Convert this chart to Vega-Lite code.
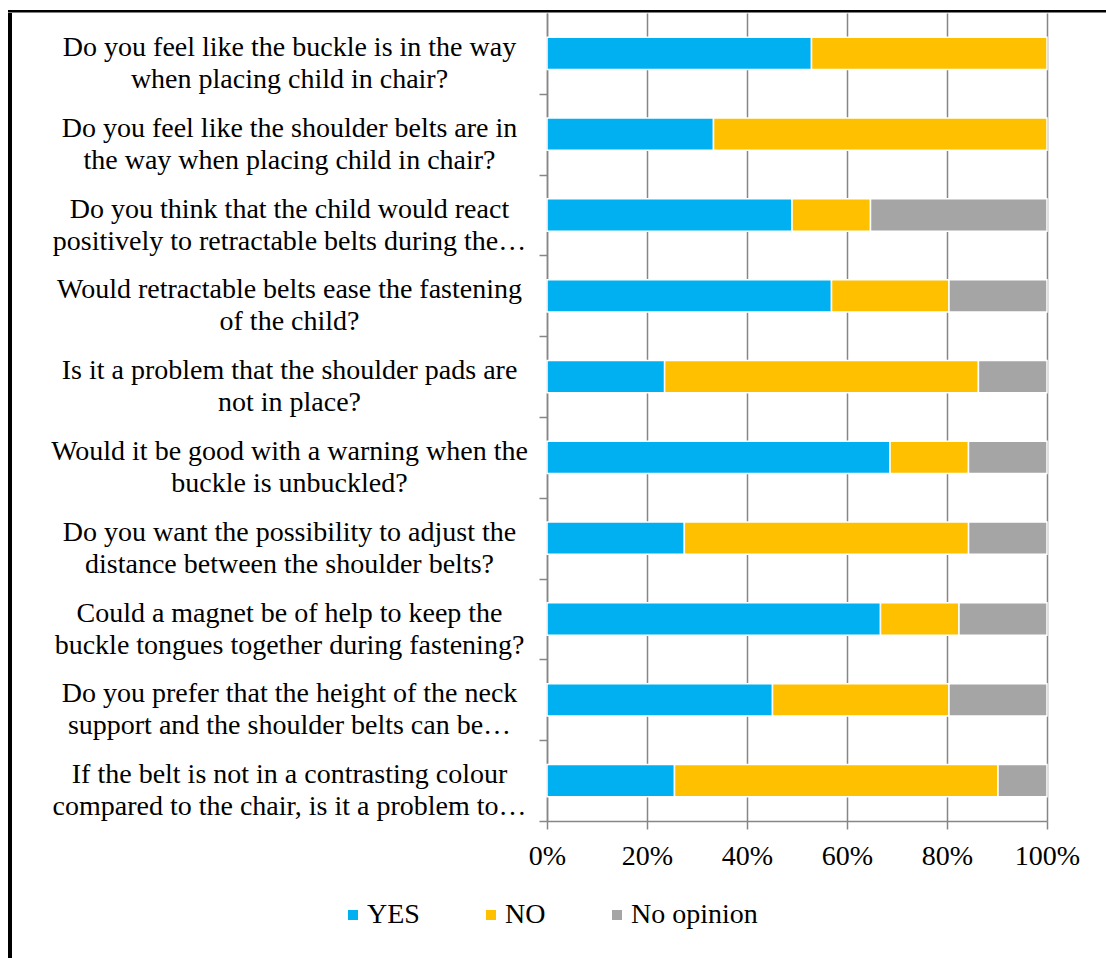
{
  "$schema": "https://vega.github.io/schema/vega-lite/v6.json",
  "padding": {"left": 8, "top": 10, "right": 0, "bottom": 0},
  "background": "white",
  "config": {"font": "Liberation Serif", "view": {"stroke": null}},
  "spacing": 0,
  "resolve": {"legend": {"color": "independent"}, "scale": {"color": "independent"}},
  "vconcat": [
    {
      "width": 1098, "height": 2.5,
      "data": {"values": []},
      "view": {"fill": "black", "stroke": null},
      "mark": "rect",
      "encoding": {}
    },
    {
      "spacing": 38,
      "resolve": {"legend": {"color": "independent"}, "scale": {"color": "independent"}},
      "hconcat": [
        {
          "width": 4, "height": 946,
          "data": {"values": []},
          "view": {"fill": "black", "stroke": null},
          "mark": "rect",
          "encoding": {}
        },
        {
          "width": 500,
          "height": 808,
          "data": {"values": [
            {"question": "Do you feel like the buckle is in the way|when placing child in chair?", "answer": "YES", "k": 1, "pct": 52.9},
            {"question": "Do you feel like the buckle is in the way|when placing child in chair?", "answer": "NO", "k": 2, "pct": 47.1},
            {"question": "Do you feel like the shoulder belts are in|the way when placing child in chair?", "answer": "YES", "k": 1, "pct": 33.3},
            {"question": "Do you feel like the shoulder belts are in|the way when placing child in chair?", "answer": "NO", "k": 2, "pct": 66.7},
            {"question": "Do you think that the child would react|positively to retractable belts during the…", "answer": "YES", "k": 1, "pct": 49.0},
            {"question": "Do you think that the child would react|positively to retractable belts during the…", "answer": "NO", "k": 2, "pct": 15.7},
            {"question": "Do you think that the child would react|positively to retractable belts during the…", "answer": "No opinion", "k": 3, "pct": 35.3},
            {"question": "Would retractable belts ease the fastening|of the child?", "answer": "YES", "k": 1, "pct": 56.9},
            {"question": "Would retractable belts ease the fastening|of the child?", "answer": "NO", "k": 2, "pct": 23.5},
            {"question": "Would retractable belts ease the fastening|of the child?", "answer": "No opinion", "k": 3, "pct": 19.6},
            {"question": "Is it a problem that the shoulder pads are|not in place?", "answer": "YES", "k": 1, "pct": 23.5},
            {"question": "Is it a problem that the shoulder pads are|not in place?", "answer": "NO", "k": 2, "pct": 62.7},
            {"question": "Is it a problem that the shoulder pads are|not in place?", "answer": "No opinion", "k": 3, "pct": 13.7},
            {"question": "Would it be good with a warning when the|buckle is unbuckled?", "answer": "YES", "k": 1, "pct": 68.6},
            {"question": "Would it be good with a warning when the|buckle is unbuckled?", "answer": "NO", "k": 2, "pct": 15.7},
            {"question": "Would it be good with a warning when the|buckle is unbuckled?", "answer": "No opinion", "k": 3, "pct": 15.7},
            {"question": "Do you want the possibility to adjust the|distance between the shoulder belts?", "answer": "YES", "k": 1, "pct": 27.5},
            {"question": "Do you want the possibility to adjust the|distance between the shoulder belts?", "answer": "NO", "k": 2, "pct": 56.9},
            {"question": "Do you want the possibility to adjust the|distance between the shoulder belts?", "answer": "No opinion", "k": 3, "pct": 15.7},
            {"question": "Could a magnet be of help to keep the|buckle tongues together during fastening?", "answer": "YES", "k": 1, "pct": 66.7},
            {"question": "Could a magnet be of help to keep the|buckle tongues together during fastening?", "answer": "NO", "k": 2, "pct": 15.7},
            {"question": "Could a magnet be of help to keep the|buckle tongues together during fastening?", "answer": "No opinion", "k": 3, "pct": 17.6},
            {"question": "Do you prefer that the height of the neck|support and the shoulder belts can be…", "answer": "YES", "k": 1, "pct": 45.1},
            {"question": "Do you prefer that the height of the neck|support and the shoulder belts can be…", "answer": "NO", "k": 2, "pct": 35.3},
            {"question": "Do you prefer that the height of the neck|support and the shoulder belts can be…", "answer": "No opinion", "k": 3, "pct": 19.6},
            {"question": "If the belt is not in a contrasting colour|compared to the chair, is it a problem to…", "answer": "YES", "k": 1, "pct": 25.5},
            {"question": "If the belt is not in a contrasting colour|compared to the chair, is it a problem to…", "answer": "NO", "k": 2, "pct": 64.7},
            {"question": "If the belt is not in a contrasting colour|compared to the chair, is it a problem to…", "answer": "No opinion", "k": 3, "pct": 9.8}
          ]},
          "mark": {"type": "bar", "stroke": "white", "strokeWidth": 1.5},
          "encoding": {
            "y": {
              "field": "question", "type": "nominal", "sort": null,
              "scale": {"paddingInner": 0.6, "paddingOuter": 0.3},
              "axis": {
                "title": null, "labelExpr": "split(datum.label, '|')",
                "labelAlign": "center", "labelPadding": 250, "labelFontSize": 28,
                "labelLineHeight": 32, "tickOffset": 40.4, "labelOffset": -46.4, "labelColor": "black",
                "labelLimit": 0, "tickSize": 8,
                "tickColor": "#868686", "tickWidth": 1.5,
                "domainColor": "#868686", "domainWidth": 1.5
              }
            },
            "x": {
              "field": "pct", "type": "quantitative", "stack": "normalize",
              "scale": {"domain": [0, 1]},
              "axis": {
                "title": null, "format": ".0%", "values": [0, 0.2, 0.4, 0.6, 0.8, 1],
                "grid": true, "gridColor": "#868686", "gridWidth": 1.5,
                "tickSize": 8, "tickColor": "#868686", "tickWidth": 1.5,
                "domainColor": "#868686", "domainWidth": 1.5,
                "labelFontSize": 28, "labelColor": "black", "labelPadding": 13,
                "labelFlush": false, "labelOverlap": false
              }
            },
            "color": {
              "field": "answer", "type": "nominal",
              "scale": {"domain": ["YES", "NO", "No opinion"], "range": ["#00B0F0", "#FFC000", "#A5A5A5"]},
              "legend": {
                "orient": "none", "legendX": -208, "legendY": 888, "direction": "horizontal",
                "title": null, "symbolType": "square", "symbolSize": 100,
                "symbolStrokeWidth": 0, "labelFontSize": 28, "labelColor": "black",
                "columnPadding": 57, "labelOffset": 0, "padding": 0
              }
            },
            "order": {"field": "k"}
          }
        }
      ]
    }
  ]
}
